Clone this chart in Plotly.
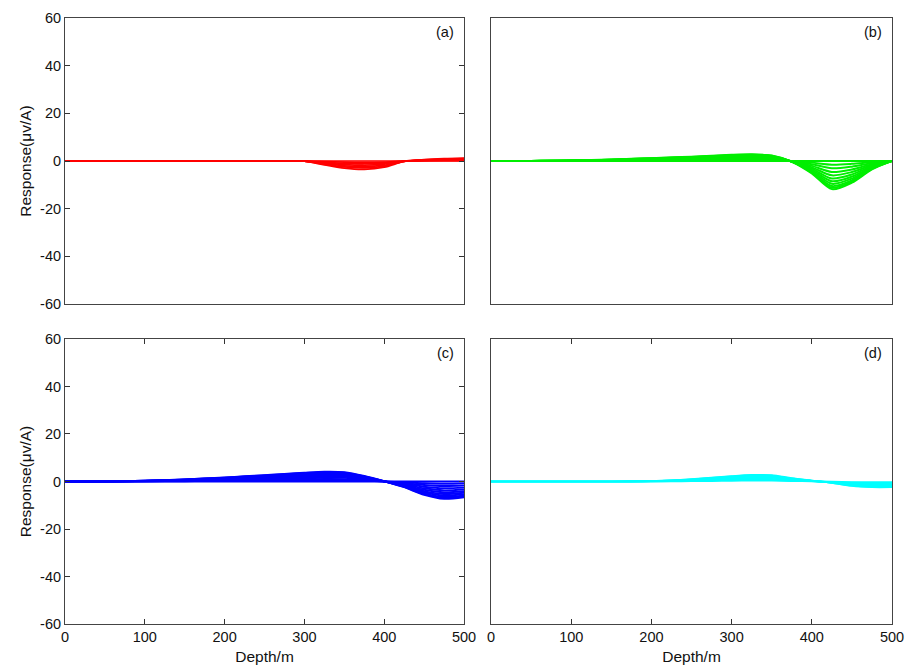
import plotly.graph_objects as go

# ---------------- data ----------------
# panel (a): red family
depth_a = [0, 200, 250, 275, 300, 325, 350, 375, 400, 425, 450, 475, 500]
curves_a = [
    [0, 0, 0, 0, 0, 0, 0, 0, 0, 0, 0, 0, 0],
    [0, 0, 0, 0, -0.02, -0.27, -0.51, -0.6, -0.44, -0.03, 0.1, 0.17, 0.2],
    [0, 0, 0, 0, -0.03, -0.53, -0.99, -1.16, -0.86, -0.07, 0.2, 0.33, 0.4],
    [0, 0, 0, 0, -0.05, -0.8, -1.5, -1.75, -1.3, -0.1, 0.3, 0.5, 0.6],
    [0, 0, 0, 0, -0.07, -1.07, -2.01, -2.35, -1.74, -0.13, 0.4, 0.67, 0.8],
    [0, 0, 0, 0, -0.08, -1.33, -2.49, -2.9, -2.16, -0.17, 0.5, 0.83, 1.0],
    [0, 0, 0, 0, -0.1, -1.6, -3.0, -3.5, -2.6, -0.2, 0.6, 1.0, 1.2],
]

# common depth grid for panels (b), (c), (d)
depth = [0, 25, 50, 75, 100, 125, 150, 175, 200, 225, 250,
         275, 300, 325, 350, 375, 400, 425, 450, 475, 500]

# panel (b): green family
curves_b = [
    [0, 0, 0, 0, 0, 0, 0, 0, 0, 0, 0, 0, 0, 0, 0, 0, 0, 0, 0, 0, 0],
    [0, 0, 0.01, 0.01, 0.03, 0.05, 0.08, 0.12, 0.16, 0.2, 0.23, 0.29, 0.34, 0.36, 0.3, -0.04, -0.68, -1.53, -1.18, -0.46, 0],
    [0, 0, 0.01, 0.03, 0.05, 0.1, 0.16, 0.23, 0.31, 0.39, 0.47, 0.57, 0.68, 0.73, 0.6, -0.08, -1.35, -3.07, -2.37, -0.91, 0],
    [0, 0, 0.02, 0.04, 0.08, 0.16, 0.23, 0.35, 0.47, 0.59, 0.7, 0.86, 1.01, 1.09, 0.9, -0.12, -2.03, -4.6, -3.55, -1.37, 0],
    [0, 0, 0.03, 0.05, 0.1, 0.2, 0.31, 0.46, 0.61, 0.77, 0.92, 1.12, 1.33, 1.43, 1.17, -0.15, -2.65, -6.02, -4.64, -1.79, 0],
    [0, 0, 0.03, 0.06, 0.12, 0.25, 0.37, 0.56, 0.74, 0.93, 1.12, 1.36, 1.61, 1.74, 1.43, -0.19, -3.22, -7.32, -5.64, -2.17, 0],
    [0, 0, 0.04, 0.07, 0.14, 0.29, 0.43, 0.65, 0.86, 1.08, 1.3, 1.58, 1.87, 2.02, 1.66, -0.22, -3.74, -8.5, -6.55, -2.52, 0],
    [0, 0, 0.04, 0.08, 0.16, 0.32, 0.49, 0.73, 0.97, 1.22, 1.46, 1.78, 2.11, 2.27, 1.86, -0.24, -4.21, -9.56, -7.37, -2.84, 0],
    [0, 0, 0.04, 0.09, 0.18, 0.36, 0.53, 0.8, 1.07, 1.34, 1.6, 1.96, 2.31, 2.49, 2.05, -0.27, -4.63, -10.5, -8.1, -3.12, 0],
    [0, 0, 0.05, 0.1, 0.19, 0.38, 0.57, 0.86, 1.14, 1.43, 1.71, 2.09, 2.47, 2.66, 2.19, -0.29, -4.94, -11.21, -8.65, -3.33, 0],
    [0, 0, 0.05, 0.1, 0.2, 0.4, 0.6, 0.9, 1.2, 1.5, 1.8, 2.2, 2.6, 2.8, 2.3, -0.3, -5.2, -11.8, -9.1, -3.5, 0],
]

# panel (c): blue family
curves_c = [
    [0, 0, 0, 0, 0, 0, 0, 0, 0, 0, 0, 0, 0, 0, 0, 0, 0, 0, 0, 0, 0],
    [0, 0.01, 0.01, 0.03, 0.05, 0.08, 0.12, 0.17, 0.22, 0.29, 0.35, 0.42, 0.48, 0.53, 0.51, 0.3, 0.01, -0.31, -0.73, -0.95, -0.86],
    [0, 0.01, 0.03, 0.05, 0.09, 0.16, 0.23, 0.34, 0.44, 0.57, 0.7, 0.83, 0.96, 1.07, 1.01, 0.6, 0.03, -0.62, -1.46, -1.9, -1.72],
    [0, 0.02, 0.04, 0.08, 0.14, 0.23, 0.35, 0.51, 0.66, 0.86, 1.05, 1.25, 1.44, 1.6, 1.52, 0.9, 0.04, -0.94, -2.18, -2.85, -2.57],
    [0, 0.03, 0.05, 0.1, 0.18, 0.31, 0.46, 0.66, 0.87, 1.12, 1.38, 1.63, 1.89, 2.09, 1.99, 1.17, 0.05, -1.22, -2.86, -3.72, -3.37],
    [0, 0.03, 0.06, 0.12, 0.22, 0.37, 0.56, 0.81, 1.05, 1.36, 1.67, 1.98, 2.29, 2.54, 2.42, 1.43, 0.06, -1.49, -3.47, -4.53, -4.09],
    [0, 0.04, 0.07, 0.14, 0.25, 0.43, 0.65, 0.94, 1.22, 1.58, 1.94, 2.3, 2.66, 2.95, 2.81, 1.66, 0.07, -1.73, -4.03, -5.26, -4.75],
    [0, 0.04, 0.08, 0.16, 0.28, 0.49, 0.73, 1.05, 1.38, 1.78, 2.19, 2.59, 3.0, 3.32, 3.16, 1.86, 0.08, -1.94, -4.54, -5.91, -5.35],
    [0, 0.04, 0.09, 0.18, 0.31, 0.53, 0.8, 1.16, 1.51, 1.96, 2.4, 2.85, 3.29, 3.65, 3.47, 2.05, 0.09, -2.14, -4.98, -6.5, -5.87],
    [0, 0.05, 0.1, 0.19, 0.33, 0.57, 0.86, 1.24, 1.62, 2.09, 2.57, 3.04, 3.52, 3.9, 3.71, 2.19, 0.1, -2.28, -5.32, -6.94, -6.27],
    [0, 0.05, 0.1, 0.2, 0.35, 0.6, 0.9, 1.3, 1.7, 2.2, 2.7, 3.2, 3.7, 4.1, 3.9, 2.3, 0.1, -2.4, -5.6, -7.3, -6.6],
]

# panel (d): cyan family
curves_d = [
    [0, 0, 0, 0, 0, 0, 0, 0.01, 0.02, 0.06, 0.12, 0.19, 0.28, 0.34, 0.32, 0.17, 0.05, -0.07, -0.23, -0.29, -0.29],
    [0, 0, 0, 0, 0, 0, 0, 0.01, 0.05, 0.14, 0.27, 0.43, 0.62, 0.76, 0.73, 0.38, 0.11, -0.16, -0.51, -0.65, -0.65],
    [0, 0, 0, 0, 0, 0, 0, 0.02, 0.08, 0.21, 0.42, 0.67, 0.97, 1.18, 1.13, 0.59, 0.17, -0.25, -0.8, -1.01, -1.01],
    [0, 0, 0, 0, 0, 0, 0, 0.03, 0.11, 0.28, 0.56, 0.9, 1.29, 1.57, 1.51, 0.78, 0.22, -0.34, -1.06, -1.34, -1.34],
    [0, 0, 0, 0, 0, 0, 0, 0.04, 0.14, 0.35, 0.7, 1.12, 1.61, 1.96, 1.89, 0.98, 0.28, -0.42, -1.33, -1.68, -1.68],
    [0, 0, 0, 0, 0, 0, 0, 0.04, 0.17, 0.42, 0.83, 1.33, 1.91, 2.32, 2.24, 1.16, 0.33, -0.5, -1.58, -1.99, -1.99],
    [0, 0, 0, 0, 0, 0, 0, 0.05, 0.19, 0.47, 0.93, 1.49, 2.14, 2.6, 2.51, 1.3, 0.37, -0.56, -1.77, -2.23, -2.23],
    [0, 0, 0, 0, 0, 0, 0, 0.05, 0.2, 0.5, 1.0, 1.6, 2.3, 2.8, 2.7, 1.4, 0.4, -0.6, -1.9, -2.4, -2.4],
]

panel_labels = ["(a)", "(b)", "(c)", "(d)"]
y_ticks = [-60, -40, -20, 0, 20, 40, 60]
y_tick_text = ["-60", "-40", "-20", "0", "20", "40", "60"]
x_ticks = [0, 100, 200, 300, 400, 500]
x_tick_text = ["0", "100", "200", "300", "400", "500"]
y_title = "Response(μv/A)"
x_title = "Depth/m"

# ---------------- figure ----------------
fig = go.Figure()

panels = [
    (depth_a, curves_a, "#ff0000", 1.7, "x", "y"),
    (depth, curves_b, "#00ee00", 2.0, "x2", "y2"),
    (depth, curves_c, "#0000ff", 1.9, "x3", "y3"),
    (depth, curves_d, "#00ffff", 1.7, "x4", "y4"),
]
for xs, curves, color, w, xa, ya in panels:
    for c in curves:
        fig.add_trace(go.Scatter(
            x=xs, y=c, mode="lines",
            line=dict(color=color, width=w, shape="spline", smoothing=0.8),
            xaxis=xa, yaxis=ya, showlegend=False, hoverinfo="skip"))

FONT = "Liberation Sans, Arial, sans-serif"
tickfont = dict(family=FONT, size=14.5, color="#111111")

XL = [0.0715, 0.5105]
XR = [0.5402, 0.9813]
YT = [0.5469, 0.9732]
YB = [0.0700, 0.4948]


def xax(domain, anchor, show_labels, ticks):
    d = dict(domain=domain, anchor=anchor, range=[0, 500], automargin=False,
             showline=True, linecolor="#444444", linewidth=1,
             mirror="ticks" if ticks else True,
             ticks="inside" if ticks else "", ticklen=5, tickcolor="#333333",
             tickmode="array", tickvals=x_ticks, ticktext=x_tick_text,
             showticklabels=show_labels, tickfont=tickfont,
             showgrid=False, zeroline=False, fixedrange=True)
    if show_labels:
        d["title"] = dict(text=x_title, font=dict(family=FONT, size=15.5, color="#111111"),
                          standoff=6)
    return d


def yax(domain, anchor, show_labels, ticks):
    d = dict(domain=domain, anchor=anchor, range=[-60, 60], automargin=False,
             showline=True, linecolor="#444444", linewidth=1,
             mirror="ticks" if ticks else True,
             ticks="inside" if ticks else "", ticklen=5, tickcolor="#333333",
             tickmode="array", tickvals=y_ticks, ticktext=y_tick_text,
             showticklabels=show_labels, tickfont=tickfont,
             showgrid=False, zeroline=False, fixedrange=True)
    if show_labels:
        d["title"] = dict(text=y_title, font=dict(family=FONT, size=15.5, color="#111111"),
                          standoff=4)
    return d


fig.update_layout(
    width=909, height=671, autosize=False,
    margin=dict(l=0, r=0, t=0, b=0, pad=0),
    paper_bgcolor="white", plot_bgcolor="white",
    showlegend=False,
    xaxis=xax(XL, "y", False, False),
    yaxis=yax(YT, "x", True, True),
    xaxis2=xax(XR, "y2", False, False),
    yaxis2=yax(YT, "x2", False, False),
    xaxis3=xax(XL, "y3", True, True),
    yaxis3=yax(YB, "x3", True, True),
    xaxis4=xax(XR, "y4", True, True),
    yaxis4=yax(YB, "x4", False, False),
)

label_pos = [(XL[1], YT[1]), (XR[1], YT[1]), (XL[1], YB[1]), (XR[1], YB[1])]
for lab, (px, py) in zip(panel_labels, label_pos):
    fig.add_annotation(text=lab, xref="paper", yref="paper", x=px - 0.009, y=py - 0.006,
                       xanchor="right", yanchor="top", showarrow=False,
                       font=dict(family=FONT, size=14.5, color="#111111"))

fig.write_html("out.html")
